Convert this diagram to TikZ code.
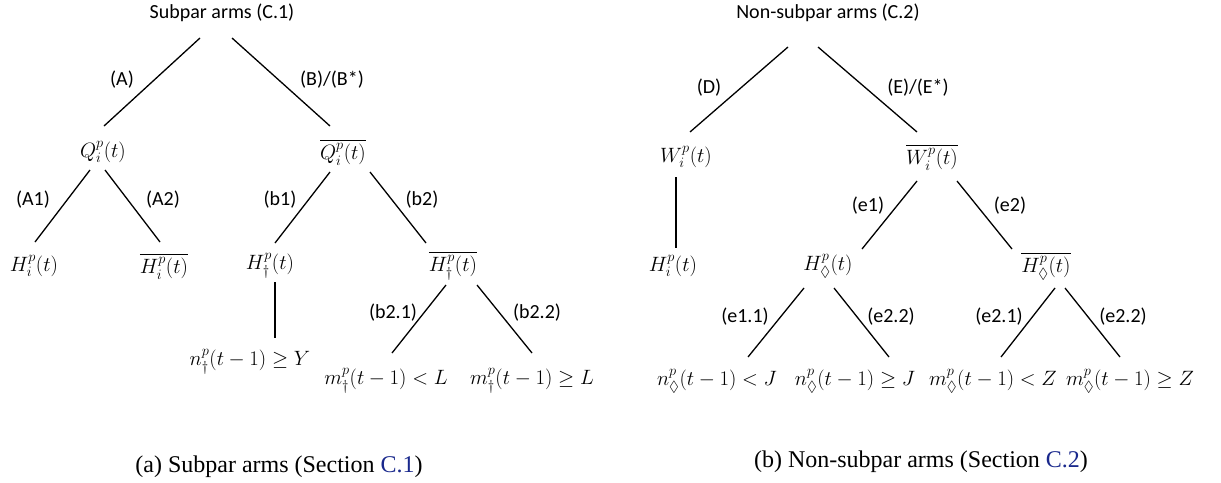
\documentclass[tikz,border=0pt]{standalone}
\usepackage{amsmath,amssymb}
\usepackage{fontspec}
\setmainfont{Liberation Serif}
\newfontfamily\lblfont{Carlito}
\usetikzlibrary{calc}
\definecolor{linkblue}{RGB}{25,40,140}
\tikzset{
  lbl/.style={font=\lblfont\fontsize{20}{23}\selectfont, inner sep=0pt},
  mth/.style={font=\fontsize{21}{25}\selectfont, inner sep=0pt},
  captext/.style={font=\fontsize{24}{28}\selectfont, inner sep=0pt},
  conn/.style={line width=1.3pt, black}
}
\begin{document}
\begin{tikzpicture}[x=1pt,y=-1pt]
\useasboundingbox (0,0) rectangle (1221,482);
% ---------- left tree ----------
\node[lbl] (T1) at (222,13) {Subpar arms (C.1)};
\node[mth] (Q)  at (103,152) {$Q_i^p(t)$};
\node[mth] (Qb) at (343,152) {$\overline{Q_i^p(t)}$};
\node[mth] (Hi) at (34,266) {$H_i^p(t)$};
\node[mth] (Hib) at (164,266) {$\overline{H_i^p(t)}$};
\node[mth] (Hd) at (270,266) {$H_\dagger^p(t)$};
\node[mth] (Hdb) at (453,266) {$\overline{H_\dagger^p(t)}$};
\node[mth] (nY) at (250,362) {$n_\dagger^p(t-1)\geq Y$};
\node[mth] (mL1) at (386,381) {$m_\dagger^p(t-1)<L$};
\node[mth] (mL2) at (532,381) {$m_\dagger^p(t-1)\geq L$};

\node[lbl] (lA) at (122,80) {(A)};
\node[lbl] (lB) at (332,80) {(B)/(B*)};
\node[lbl] (lA1) at (33,200) {(A1)};
\node[lbl] (lA2) at (163,200) {(A2)};
\node[lbl] (lb1) at (280,200) {(b1)};
\node[lbl] (lb2) at (422,200) {(b2)};
\node[lbl] (lb21) at (393,313) {(b2.1)};
\node[lbl] (lb22) at (537,313) {(b2.2)};

\draw[conn] ($(T1)+(-22,25)$) -- ($(Q)+(1,-26)$);
\draw[conn] ($(T1)+(10,25)$) -- ($(Qb)+(-13,-26)$);
\draw[conn] ($(Q)+(-13,18)$) -- ($(Hi)+(1,-24)$);
\draw[conn] ($(Q)+(2,18)$) -- ($(Hib)+(-4,-24)$);
\draw[conn] ($(Qb)+(-13,20)$) -- ($(Hd)+(5,-23)$);
\draw[conn] ($(Qb)+(27,20)$) -- ($(Hdb)+(-27,-23)$);
\draw[conn] ($(Hd)+(5,16)$) -- ($(nY)+(25,-24)$);
\draw[conn] ($(Hdb)+(-7,19)$) -- ($(mL1)+(6,-28)$);
\draw[conn] ($(Hdb)+(24,19)$) -- ($(mL2)+(0,-28)$);

% ---------- right tree ----------
\node[lbl] (T2) at (828,13) {Non-subpar arms (C.2)};
\node[mth] (W)  at (686,157) {$W_i^p(t)$};
\node[mth] (Wb) at (932,157) {$\overline{W_i^p(t)}$};
\node[mth] (Hi2) at (673,266) {$H_i^p(t)$};
\node[mth] (Hx) at (828,266) {$H_\Diamond^p(t)$};
\node[mth] (Hxb) at (1046,266) {$\overline{H_\Diamond^p(t)}$};
\node[mth] (nJ1) at (717,381) {$n_\Diamond^p(t-1)<J$};
\node[mth] (nJ2) at (855,381) {$n_\Diamond^p(t-1)\geq J$};
\node[mth] (mZ1) at (993,381) {$m_\Diamond^p(t-1)<Z$};
\node[mth] (mZ2) at (1130,381) {$m_\Diamond^p(t-1)\geq Z$};

\node[lbl] (lD) at (709,88) {(D)};
\node[lbl] (lE) at (918,88) {(E)/(E*)};
\node[lbl] (le1) at (868,206) {(e1)};
\node[lbl] (le2) at (1010,206) {(e2)};
\node[lbl] (le11) at (745,317) {(e1.1)};
\node[lbl] (le22a) at (891,317) {(e2.2)};
\node[lbl] (le21) at (999,317) {(e2.1)};
\node[lbl] (le22b) at (1123,317) {(e2.2)};

\draw[conn] ($(T2)+(-40,34)$) -- ($(W)+(4,-25)$);
\draw[conn] ($(T2)+(-10,34)$) -- ($(Wb)+(-15,-25)$);
\draw[conn] ($(W)+(-10,20)$) -- ($(Hi2)+(3,-18)$);
\draw[conn] ($(Wb)+(-15,24)$) -- ($(Hx)+(34,-17)$);
\draw[conn] ($(Wb)+(25,24)$) -- ($(Hxb)+(-34,-17)$);
\draw[conn] ($(Hx)+(-24,22)$) -- ($(nJ1)+(31,-24)$);
\draw[conn] ($(Hx)+(6,22)$) -- ($(nJ2)+(34,-24)$);
\draw[conn] ($(Hxb)+(9,22)$) -- ($(mZ1)+(8,-24)$);
\draw[conn] ($(Hxb)+(19,22)$) -- ($(mZ2)+(-10,-24)$);

% ---------- captions ----------
\node[captext] (capA) at (279,467) {(a) Subpar arms (Section \textcolor{linkblue}{C.1})};
\node[captext] (capB) at (921,462) {(b) Non-subpar arms (Section \textcolor{linkblue}{C.2})};
\end{tikzpicture}
\end{document}
